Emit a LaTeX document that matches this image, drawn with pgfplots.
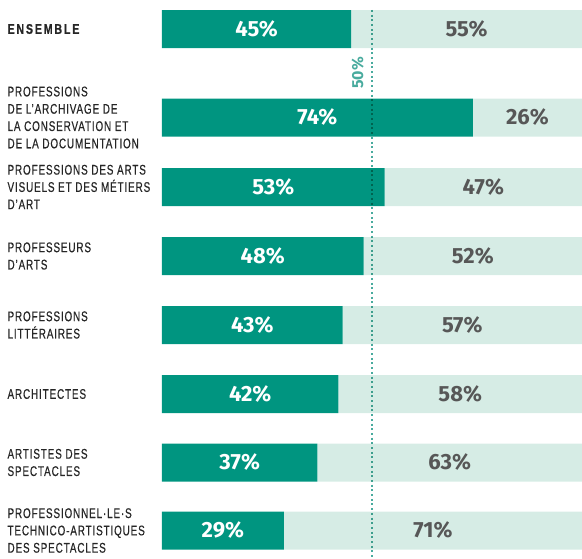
\documentclass[border=0pt]{standalone}
\usepackage{fontspec}
\setmainfont{Fira Sans}
\newfontfamily\lab[FakeStretch=0.71,LetterSpace=6,FakeBold=0.5]{Liberation Sans}
\newfontfamily\labb[FakeStretch=0.76,LetterSpace=13,FakeBold=0.6]{Liberation Sans Bold}
\usepackage{pgfplots}
\pgfplotsset{compat=1.18}
\usepackage{pgfplotstable}
\definecolor{dk}{HTML}{009580}
\definecolor{lt}{HTML}{D6ECE5}
\definecolor{gr}{HTML}{575757}
\definecolor{ln}{HTML}{49AB9E}

% y = bar centre (px from top), share below / above
\pgfplotstableread{
y dark light
29 45 55
117.5 74 26
187 53 47
256 48 52
325 43 57
394 42 58
462.5 37 63
530.5 29 71
}\data

\begin{document}
\begin{tikzpicture}
\begin{axis}[
  width=582pt, height=557pt, scale only axis,
  xmin=-38.571, xmax=100, ymin=0, ymax=557, y dir=reverse,
  xbar stacked, bar width=38,
  axis line style={draw=none}, tick style={draw=none},
  xtick=\empty,
  ytick={29,117.5,187,256,325,394,462.5,530.5},
  yticklabels={{\labb ENSEMBLE},
    {PROFESSIONS\\DE L’ARCHIVAGE DE\\LA CONSERVATION ET\\DE LA DOCUMENTATION},
    {PROFESSIONS DES ARTS\\VISUELS ET DES MÉTIERS\\D’ART},
    {PROFESSEURS\\D’ARTS},
    {PROFESSIONS\\LITTÉRAIRES},
    {ARCHITECTES},
    {ARTISTES DES\\SPECTACLES},
    {PROFESSIONNEL·LE·S\\TECHNICO-ARTISTIQUES\\DES SPECTACLES}},
  yticklabel style={anchor=west, align=left, xshift=4pt,
    font=\lab\fontsize{14}{17.3}\selectfont, text=black!85},
  point meta=explicit symbolic,
  nodes near coords={\pgfplotspointmeta\%},
  nodes near coords style={anchor=center,
    font=\bfseries\fontsize{22}{22}\selectfont},
  clip=false,
]
\addplot[fill=dk, draw=none, every node near coord/.append style={text=white}]
  table[x=dark, y=y, meta=dark]{\data};
\addplot[fill=lt, draw=none, every node near coord/.append style={text=gr}]
  table[x=light, y=y, meta=light]{\data};
\coordinate (top) at (axis cs:50,10);
\coordinate (bot) at (axis cs:50,557);
\node[rotate=90, anchor=south, inner sep=0pt, text=ln,
  font=\bfseries\fontsize{16}{16}\selectfont] at (axis cs:48.1,73) {50\%};
\end{axis}
% 50 % reference line, drawn over the bars
\draw[ln, line width=2pt, dash pattern=on 2pt off 2.7pt, blend mode=multiply]
  (top) -- (bot);
\end{tikzpicture}
\end{document}
